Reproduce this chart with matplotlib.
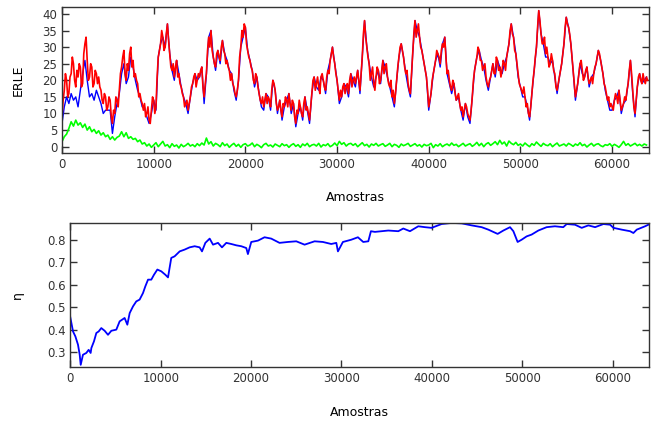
import matplotlib
matplotlib.use("Agg")
import matplotlib.pyplot as plt
import numpy

# ERLE, red curve: one sample every 125 "amostras"
red_step = 125
erle_red = [
    9, 14, 17, 22, 20, 15, 16, 21, 22, 27, 25, 20, 18, 23, 21, 25, 24, 18, 19, 28,
    31, 33, 26, 20, 21, 25, 24, 18, 19, 23, 22, 19, 21, 18, 17, 14, 13, 16, 15, 11,
    12, 15, 14, 9, 7, 11, 10, 15, 14, 12, 17, 22, 24, 27, 29, 22, 20, 25, 23, 28,
    30, 24, 26, 21, 22, 20, 19, 15, 16, 14, 13, 11, 13, 9, 10, 12, 8, 7, 11, 15,
    14, 10, 12, 21, 27, 29, 31, 35, 33, 29, 30, 34, 37, 32, 28, 24, 23, 25, 21, 24,
    26, 21, 22, 19, 18, 16, 15, 12, 13, 14, 11, 13, 15, 18, 19, 21, 22, 18, 20, 22,
    21, 23, 24, 18, 15, 19, 22, 29, 33, 30, 35, 29, 27, 25, 24, 28, 29, 27, 26, 30,
    32, 29, 28, 25, 26, 24, 23, 20, 22, 19, 18, 16, 15, 17, 20, 27, 30, 35, 33, 37,
    36, 31, 29, 27, 26, 24, 23, 20, 19, 22, 21, 18, 16, 14, 13, 15, 12, 14, 16, 13,
    15, 14, 12, 17, 20, 19, 17, 13, 11, 12, 14, 11, 9, 13, 12, 15, 14, 12, 16, 13,
    11, 14, 13, 9, 7, 11, 10, 14, 12, 10, 9, 13, 15, 11, 12, 10, 8, 12, 16, 20,
    21, 17, 19, 21, 18, 16, 21, 22, 20, 18, 17, 21, 23, 22, 26, 28, 30, 27, 25, 22,
    20, 17, 14, 17, 15, 18, 19, 16, 18, 19, 16, 20, 22, 18, 20, 21, 19, 21, 23, 20,
    17, 22, 27, 34, 38, 33, 30, 27, 25, 20, 22, 24, 19, 17, 21, 24, 23, 19, 20, 23,
    26, 22, 24, 25, 21, 19, 18, 20, 15, 17, 13, 16, 20, 24, 27, 30, 31, 29, 27, 24,
    22, 23, 19, 17, 16, 22, 28, 34, 38, 33, 35, 37, 33, 30, 29, 27, 25, 23, 21, 17,
    12, 14, 16, 20, 22, 24, 26, 29, 28, 27, 25, 29, 31, 30, 33, 27, 22, 23, 20, 18,
    17, 20, 19, 16, 14, 15, 16, 13, 11, 12, 9, 11, 13, 12, 10, 9, 8, 11, 15, 20,
    23, 25, 27, 30, 29, 26, 26, 23, 24, 25, 21, 19, 18, 20, 21, 23, 25, 22, 22, 27,
    26, 23, 24, 21, 23, 26, 25, 23, 27, 29, 31, 35, 37, 34, 33, 29, 28, 25, 22, 19,
    18, 17, 16, 18, 15, 12, 13, 10, 9, 12, 16, 20, 23, 27, 30, 36, 41, 38, 34, 31,
    31, 33, 28, 30, 27, 24, 25, 28, 26, 23, 22, 18, 17, 19, 21, 23, 25, 28, 31, 36,
    39, 37, 36, 34, 31, 27, 23, 19, 15, 17, 19, 22, 25, 26, 23, 20, 21, 23, 24, 21,
    19, 20, 21, 19, 22, 24, 25, 27, 29, 28, 26, 24, 22, 19, 18, 16, 14, 15, 12, 13,
    12, 11, 14, 16, 15, 13, 17, 14, 11, 12, 13, 15, 14, 17, 19, 23, 26, 22, 17, 12,
    10, 14, 18, 21, 22, 20, 19, 22, 20, 19, 21, 20,
]
# blue and green curves: one sample every 250 "amostras"
step = 250
erle_blue = [
    7, 12, 15, 13, 16, 14, 15, 12, 17, 22, 26, 20, 15, 16, 14, 17, 15, 13, 10, 11,
    11, 11, 4, 9, 13, 16, 22, 25, 19, 21, 27, 24, 20, 17, 15, 12, 12, 9, 7, 10,
    14, 11, 27, 31, 33, 30, 37, 28, 23, 20, 26, 22, 18, 15, 13, 10, 15, 19, 22, 20,
    21, 24, 13, 22, 33, 35, 27, 23, 29, 25, 32, 28, 26, 23, 22, 17, 14, 20, 30, 33,
    36, 29, 26, 23, 18, 21, 16, 12, 11, 16, 15, 11, 20, 17, 10, 14, 8, 12, 14, 16,
    10, 13, 6, 10, 12, 8, 15, 11, 7, 16, 21, 18, 17, 21, 20, 16, 23, 26, 30, 25,
    20, 13, 15, 19, 18, 15, 22, 20, 18, 23, 16, 27, 38, 30, 25, 21, 18, 21, 23, 19,
    26, 24, 21, 18, 15, 12, 20, 27, 31, 27, 22, 18, 15, 28, 38, 35, 33, 29, 25, 21,
    11, 16, 22, 26, 28, 24, 31, 33, 22, 19, 16, 19, 14, 15, 11, 8, 13, 9, 7, 15,
    23, 27, 29, 26, 24, 20, 17, 21, 25, 21, 26, 24, 22, 25, 27, 31, 37, 33, 28, 21,
    18, 15, 15, 12, 8, 16, 23, 30, 41, 34, 31, 27, 27, 25, 26, 21, 16, 21, 25, 31,
    39, 36, 31, 23, 14, 19, 25, 22, 21, 24, 18, 21, 22, 25, 29, 26, 22, 17, 14, 11,
    11, 14, 15, 17, 10, 13, 14, 19, 26, 16, 9, 18, 22, 19, 20, 21,
]
erle_green = [
    1.5, 3.0, 3.8, 5.5, 7.5, 6.2, 8.0, 6.5, 7.2, 5.8, 6.8, 5.0, 6.0, 4.5, 5.2, 4.0, 4.8, 3.5, 4.2, 3.0,
    3.5, 2.2, 3.0, 2.0, 2.8, 3.2, 4.5, 3.0, 4.2, 2.5, 3.0, 2.2, 2.5, 1.5, 2.0, 0.8, 1.2, 0.2, 0.8, -0.2,
    0.5, 1.2, 0.0, 0.8, 1.6, 0.2, 0.6, -0.3, 0.9, 0.1, 0.5, -0.4, 0.7, 0.0, 0.4, 1.0, 0.2, 0.6, 0.0, 0.9,
    0.3, 1.1, 0.5, 2.6, 0.8, 1.5, 0.2, 1.0, 0.6, 0.0, 1.2, 0.3, 0.8, -0.2, 0.5, 1.0, 0.1, 0.7, -0.2, 0.6,
    0.9, 0.2, 0.5, 1.1, 0.0, 0.7, 0.3, -0.3, 0.6, 1.0, 0.2, 0.5, -0.1, 0.8, 0.4, 0.0, 0.9, 0.3, 0.6, -0.2,
    0.5, 0.9, 0.1, 0.6, -0.2, 0.8, 0.3, 1.0, 0.0, 0.5, 0.7, 0.2, 1.0, -0.1, 0.6, 0.3, 0.9, 0.0, 0.4, 1.1,
    0.3, 1.6, 0.7, 1.2, 0.2, 0.8, 1.0, 0.4, 0.9, 0.0, 0.6, 1.2, 0.3, 0.7, -0.1, 0.8, 0.4, 1.0, 0.2, 0.6,
    0.9, 0.1, 0.5, 1.0, 0.0, 0.7, 0.4, -0.2, 0.8, 0.3, 0.6, 1.0, 0.1, 0.5, 0.9, 0.2, 0.6, -0.1, 0.7, 0.3,
    0.5, 1.0, -0.3, 0.6, 0.2, 0.9, 0.0, 0.5, 0.8, 0.3, 1.1, 0.4, 0.7, 0.0, 0.5, 1.0, 0.2, 0.6, 0.9, 0.1,
    0.6, 1.3, 0.3, 1.0, 0.0, 0.8, 1.2, 0.4, 0.9, 1.5, 0.6, 1.9, 0.8, 1.4, 0.2, 1.7, 1.0, 0.6, 1.3, 0.4,
    0.8, 0.2, 1.1, 0.5, 0.0, 0.9, 0.4, 1.4, 0.7, 0.1, 1.0, 0.5, 0.3, 0.9, 0.0, 0.6, 1.1, 0.2, 0.5, 0.8,
    0.2, 1.0, 0.6, 0.1, 0.8, 0.4, 1.2, 0.3, 0.7, -0.1, 0.5, 1.0, 0.2, 0.7, 0.9, 0.3, 0.0, 0.6, 0.4, 0.9,
    0.1, 0.7, 0.3, -0.2, 0.6, 1.6, 0.4, 0.9, 0.2, 0.6, 1.0, 0.3, 0.7, 0.2, 0.8, 0.5,
]

# eta curve
eta_x = [
    0, 300, 560, 850, 1040, 1150, 1400, 1770, 2030, 2250, 2330, 2620, 2880, 3140, 3430,
    3800, 4170, 4540, 5090, 5460, 6010, 6310, 6570, 6940, 7300, 7670, 8040, 8300, 8600,
    8960, 9260, 9630, 10070, 10510, 10810, 11170, 11540, 12100, 12650, 13200, 13760,
    14310, 14570, 14940, 15420, 15790, 16340, 16780, 17260, 17810, 18370, 18920, 19470,
    19650, 20020, 20760, 21490, 22230, 23150, 24070, 25000, 25920, 27030, 27950, 28870,
    29430, 29610, 30160, 31080, 31820, 32410, 32970, 33260, 33700, 34440, 35180, 36290,
    36840, 37580, 38500, 39240, 39970, 41080, 42190, 43300, 44400, 45510, 46250, 47280,
    47910, 48650, 49020, 49490, 49930, 50490, 51040, 51780, 52700, 53620, 54540, 54920,
    55840, 56580, 57320, 58060, 58980, 59720, 60090, 61010, 61930, 62300, 62670, 63590,
    63960,
]
eta_y = [
    0.455, 0.392, 0.370, 0.333, 0.288, 0.243, 0.288, 0.296, 0.310, 0.296, 0.318, 0.348,
    0.385, 0.392, 0.407, 0.395, 0.377, 0.395, 0.400, 0.437, 0.452, 0.422, 0.474, 0.504,
    0.526, 0.534, 0.563, 0.593, 0.623, 0.623, 0.645, 0.668, 0.660, 0.645, 0.633, 0.720,
    0.727, 0.749, 0.757, 0.767, 0.772, 0.767, 0.749, 0.787, 0.806, 0.779, 0.787, 0.767,
    0.787, 0.782, 0.776, 0.772, 0.764, 0.737, 0.791, 0.797, 0.812, 0.806, 0.787, 0.791,
    0.794, 0.779, 0.794, 0.791, 0.782, 0.787, 0.749, 0.791, 0.801, 0.812, 0.791, 0.794,
    0.839, 0.836, 0.839, 0.842, 0.839, 0.851, 0.839, 0.861, 0.857, 0.854, 0.871, 0.876,
    0.874, 0.865, 0.857, 0.846, 0.827, 0.842, 0.857, 0.839, 0.791, 0.801, 0.816, 0.824,
    0.842, 0.857, 0.861, 0.857, 0.871, 0.868, 0.854, 0.865, 0.857, 0.871, 0.868, 0.854,
    0.846, 0.839, 0.831, 0.846, 0.861, 0.868,
]

red_x = numpy.arange(len(erle_red)) * red_step
erle_x = numpy.arange(len(erle_blue)) * step

plt.rcParams['font.family'] = 'DejaVu Sans'
fig = plt.figure(figsize=(6.54, 4.22), dpi=100)
ax1 = fig.add_axes([0.0948, 0.6367, 0.8972, 0.346])
ax2 = fig.add_axes([0.1075, 0.1296, 0.8845, 0.3427])

ax1.plot(erle_x, erle_blue, color='#0000ff', lw=1.0)
ax1.plot(red_x, erle_red, color='#ff0000', lw=1.2)
ax1.plot(erle_x, erle_green, color='#00ff00', lw=1.2)
ax1.set_xlim(0, 64000)
ax1.set_ylim(-2, 42)
ax1.set_yticks(range(0, 41, 5))
ax1.set_ylabel('ERLE', fontsize=9, va='center')
ax1.yaxis.set_label_coords(-0.075, 0.5)
ax1.set_xlabel('Amostras', fontsize=9, va='center')
ax1.xaxis.set_label_coords(0.5, -0.30)

ax2.plot(eta_x, eta_y, color='#0000ff', lw=1.3)
ax2.set_xlim(0, 64000)
ax2.set_ylim(0.232, 0.877)
ax2.set_yticks([0.3, 0.4, 0.5, 0.6, 0.7, 0.8])
ax2.set_ylabel('η', fontsize=9, va='center')
ax2.yaxis.set_label_coords(-0.092, 0.5)
ax2.set_xlabel('Amostras', fontsize=9, va='center')
ax2.xaxis.set_label_coords(0.5, -0.31)

for ax in (ax1, ax2):
    ax.set_xticks(range(0, 60001, 10000))
    ax.tick_params(direction='in', length=5, width=1, top=True, right=True,
                   labelsize=8.5, colors='#333333', labelcolor='#333333')
    for s in ax.spines.values():
        s.set_linewidth(1)
        s.set_color('#333333')

fig.savefig('out.png', dpi=100)
